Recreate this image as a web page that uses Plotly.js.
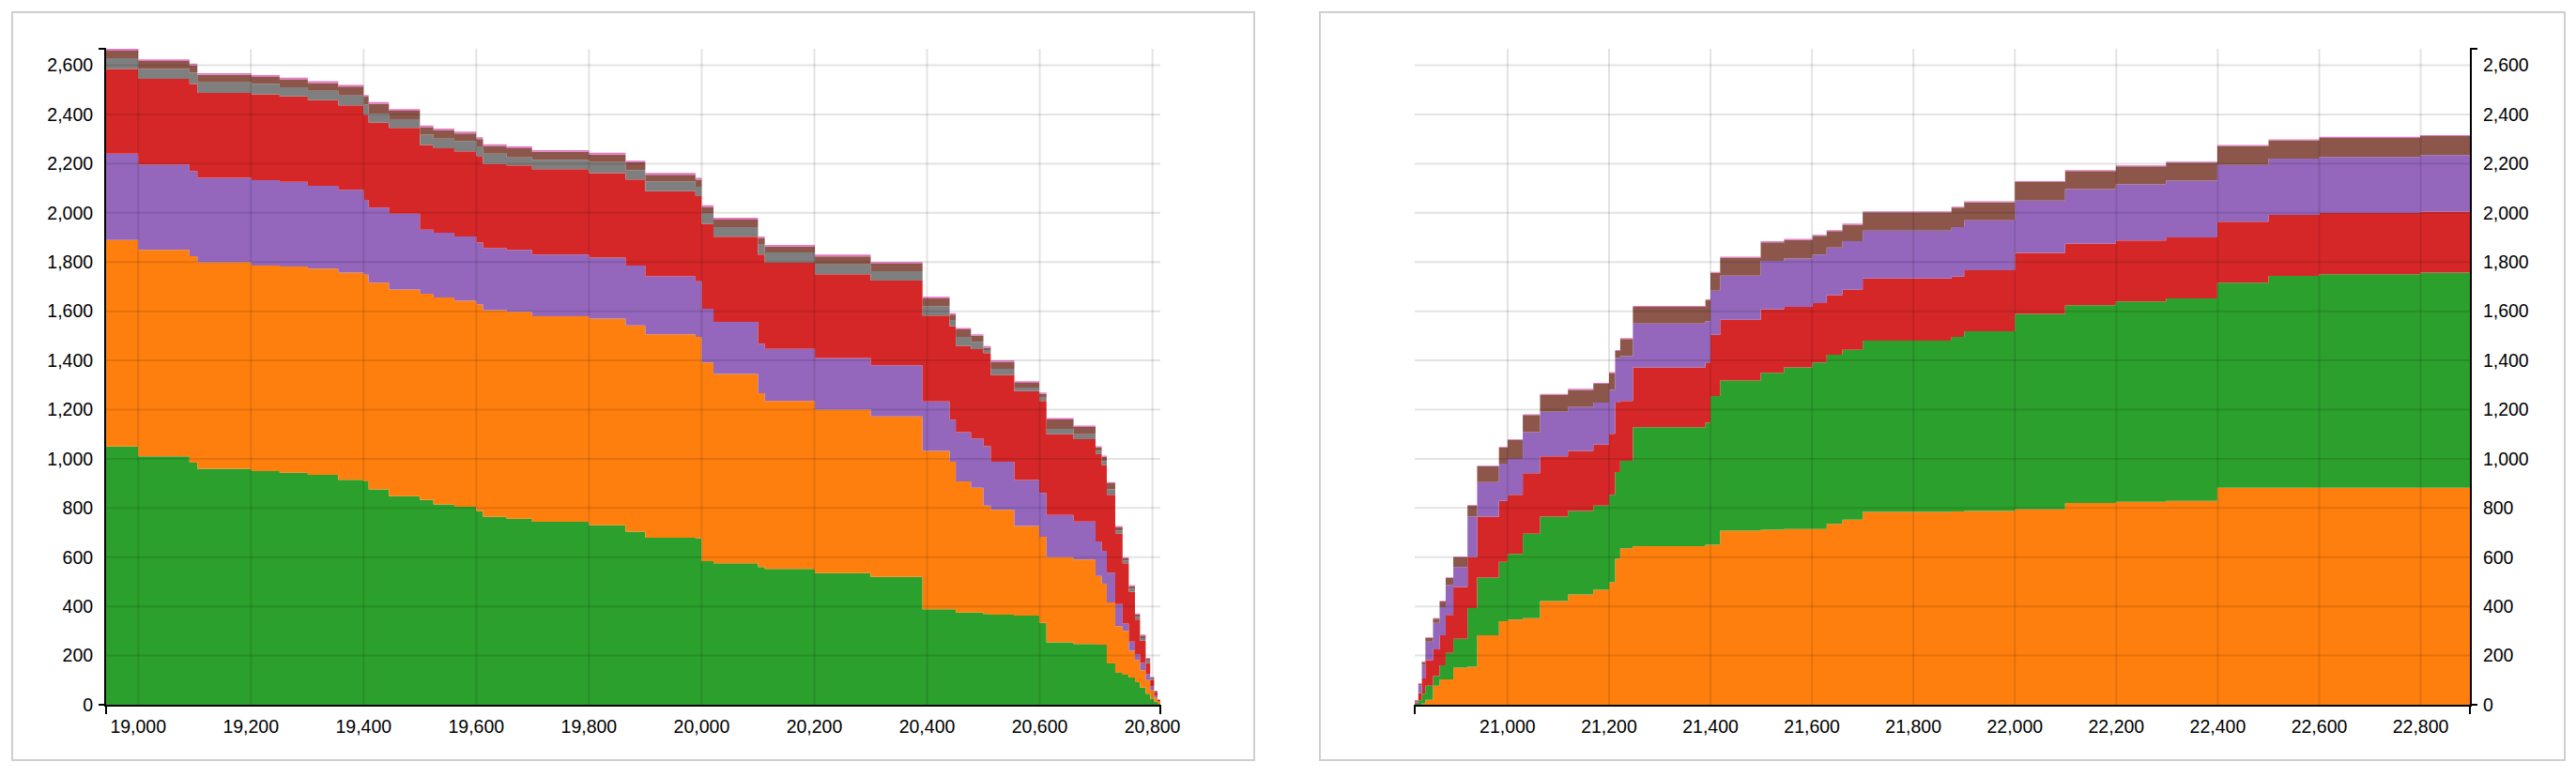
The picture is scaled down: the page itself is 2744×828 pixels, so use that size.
<!DOCTYPE html>
<html>
<head>
<meta charset="utf-8">
<script src="https://cdn.plot.ly/plotly-3.0.1.min.js"></script>
<style>
  body { margin: 0; background: #fff; width: 2744px; height: 828px; overflow: hidden; }
  .panel { position: absolute; top: 12px; height: 799px; box-sizing: border-box; border: 2px solid #cfcfcf; }
  #left { left: 12px; width: 1325px; }
  #right { left: 1405px; width: 1328px; }
</style>
</head>
<body>
<div id="left" class="panel"></div>
<div id="right" class="panel"></div>
<script>
// left panel: values per layer at each step start
const xLeft = [18943, 19000, 19091, 19105, 19201, 19251, 19301, 19355, 19400, 19409,
  19445, 19500, 19524, 19561, 19600, 19612, 19654, 19699, 19800, 19865,
  19900, 19989, 20000, 20021, 20100, 20112, 20201, 20300, 20392, 20440,
  20451, 20478, 20500, 20513, 20555, 20599, 20612, 20660, 20699, 20710,
  20719, 20734, 20747, 20758, 20769, 20778, 20788, 20796, 20803, 20809,
  20814];
const leftGreen = [1050, 1010, 984, 960, 950, 943, 935, 915, 908, 876,
  848, 833, 815, 805, 788, 764, 756, 744, 730, 704,
  679, 676, 584, 575, 560, 552, 535, 520, 388, 388,
  375, 375, 369, 366, 362, 333, 254, 247, 244, 244,
  168, 130, 122, 111, 92, 70, 45, 25, 12, 4,
  0];
const leftOrange = [840, 840, 840, 839, 836, 839, 838, 842, 840, 840,
  840, 838, 841, 838, 839, 840, 842, 836, 840, 838,
  827, 820, 808, 770, 707, 683, 665, 652, 644, 600,
  533, 507, 441, 427, 365, 350, 346, 343, 280, 248,
  248, 190, 178, 108, 89, 70, 55, 35, 18, 7,
  0];
const leftPurple = [351, 346, 346, 343, 347, 344, 337, 337, 305, 305,
  308, 261, 263, 261, 252, 252, 252, 250, 248, 244,
  236, 226, 218, 212, 201, 212, 210, 208, 201, 171,
  200, 201, 241, 195, 187, 178, 172, 155, 140, 134,
  121, 89, 30, 38, 25, 30, 25, 15, 8, 3,
  0];
const leftRed = [344, 349, 354, 346, 349, 347, 348, 343, 346, 346,
  350, 344, 344, 346, 352, 343, 343, 348, 343, 350,
  346, 346, 345, 346, 362, 350, 340, 345, 349, 380,
  351, 363, 379, 353, 361, 374, 328, 335, 356, 349,
  317, 286, 245, 203, 140, 90, 45, 25, 12, 5,
  0];
const leftGray = [44, 40, 46, 43, 42, 38, 38, 40, 41, 36,
  35, 42, 39, 42, 36, 42, 32, 38, 45, 38,
  40, 38, 41, 39, 41, 42, 40, 38, 39, 25,
  37, 30, 12, 25, 15, 14, 22, 20, 12, 16,
  22, 14, 12, 12, 11, 11, 10, 6, 3, 1,
  0];
const leftBrown = [30, 32, 30, 30, 29, 32, 32, 36, 32, 40,
  34, 30, 34, 31, 33, 31, 38, 32, 31, 31,
  27, 29, 28, 31, 26, 24, 33, 30, 31, 22,
  30, 24, 10, 28, 19, 15, 38, 29, 14, 17,
  24, 13, 9, 10, 10, 10, 8, 5, 3, 1,
  0];
const leftPink = [8, 7, 7, 7, 7, 7, 7, 7, 7, 7,
  7, 7, 7, 7, 7, 7, 7, 7, 7, 7,
  7, 7, 7, 7, 7, 7, 7, 7, 7, 6,
  6, 6, 6, 6, 6, 6, 6, 6, 5, 5,
  5, 5, 4, 4, 4, 4, 3, 2, 1, 1,
  0];

// right panel
const xRight = [20817, 20824, 20831, 20838, 20853, 20866, 20878, 20893, 20921, 20940,
  20983, 21000, 21030, 21064, 21119, 21169, 21200, 21212, 21222, 21247,
  21390, 21400, 21419, 21499, 21545, 21601, 21629, 21660, 21700, 21875,
  21900, 22000, 22099, 22199, 22298, 22399, 22500, 22600, 22799, 22897];
const rightOrange = [0, 0, 5, 20, 77, 103, 103, 151, 155, 282,
  340, 346, 352, 422, 448, 467, 498, 594, 636, 645,
  651, 651, 708, 712, 714, 714, 735, 753, 784, 786,
  788, 795, 820, 825, 829, 882, 882, 882, 882, 882];
const rightGreen = [5, 18, 40, 57, 39, 57, 108, 117, 238, 235,
  241, 267, 343, 343, 340, 343, 356, 352, 356, 483,
  496, 604, 610, 638, 658, 678, 688, 690, 696, 710,
  731, 794, 804, 815, 823, 834, 862, 868, 875, 875];
const rightRed = [5, 30, 62, 104, 109, 122, 154, 211, 207, 248,
  248, 241, 246, 245, 244, 248, 248, 283, 243, 244,
  245, 249, 247, 258, 246, 241, 242, 244, 253, 245,
  248, 248, 251, 248, 248, 248, 248, 249, 248, 248];
const rightPurple = [5, 30, 55, 76, 108, 115, 121, 81, 165, 140,
  152, 146, 167, 181, 178, 171, 178, 181, 182, 178,
  168, 180, 180, 197, 196, 197, 194, 198, 195, 201,
  203, 213, 222, 228, 231, 231, 229, 228, 230, 230];
const rightBrown = [3, 8, 12, 15, 17, 23, 29, 40, 45, 64,
  64, 77, 70, 70, 70, 76, 69, 28, 70, 68,
  85, 72, 73, 75, 76, 77, 67, 67, 74, 79,
  73, 75, 73, 73, 73, 77, 74, 78, 77, 77];
const rightPink = [1, 2, 2, 3, 3, 3, 3, 3, 3, 3,
  3, 3, 3, 3, 5, 4, 4, 4, 4, 4,
  4, 4, 4, 5, 4, 4, 4, 4, 4, 4,
  4, 4, 4, 4, 4, 4, 4, 4, 4, 4];

const xTicksLeft = [19000, 19200, 19400, 19600, 19800, 20000, 20200, 20400, 20600, 20800];
const xTicksRight = [21000, 21200, 21400, 21600, 21800, 22000, 22200, 22400, 22600, 22800];
const yTicks = [0, 200, 400, 600, 800, 1000, 1200, 1400, 1600, 1800, 2000, 2200, 2400, 2600];

const colors = {
  green: "#2ca02c", orange: "#ff7f0e", purple: "#9467bd", red: "#d62728",
  gray: "#7f7f7f", brown: "#8c564b", pink: "#e377c2",
};

// both panels share the left panel's starting total as top of the y range
const yTop = [leftGreen, leftOrange, leftPurple, leftRed, leftGray, leftBrown, leftPink]
  .reduce((s, arr) => s + arr[0], 0);

function layer(x, y, color, group) {
  return {
    x, y,
    type: "scatter",
    mode: "lines",
    stackgroup: group,
    line: { shape: "hv", width: 0, color },
    fillcolor: color,
    hoverinfo: "skip",
  };
}

// gridlines go above the fills, so draw them as shapes
function gridShapes(xTicks) {
  const grid = { color: "rgba(0,0,0,0.11)", width: 2 };
  const vertical = xTicks.map((v) => ({
    type: "line", layer: "above", xref: "x", yref: "y domain",
    x0: v, x1: v, y0: 0, y1: 1, line: grid,
  }));
  const horizontal = yTicks.filter((v) => v > 0).map((v) => ({
    type: "line", layer: "above", xref: "x domain", yref: "y",
    x0: 0, x1: 1, y0: v, y1: v, line: grid,
  }));
  return vertical.concat(horizontal);
}

// little outer ticks at the ends of each axis line
function endTicks(ySide) {
  const edge = { color: "black", width: 2 };
  const yx = ySide === "left" ? 0 : 1;
  const dir = ySide === "left" ? -1 : 1;
  const shapes = [];
  [0, 1].forEach((yy) => {
    shapes.push({
      type: "line", layer: "above", xref: "x domain", yref: "y domain",
      xsizemode: "pixel", xanchor: yx, x0: 0, x1: 8 * dir, y0: yy, y1: yy, line: edge,
    });
  });
  [0, 1].forEach((xx) => {
    shapes.push({
      type: "line", layer: "above", xref: "x domain", yref: "y domain",
      ysizemode: "pixel", yanchor: 0, x0: xx, x1: xx, y0: 0, y1: -10, line: edge,
    });
  });
  return shapes;
}

function axisStyle() {
  return {
    showgrid: false,
    zeroline: false,
    showline: true,
    linecolor: "black",
    linewidth: 2,
    ticks: "",
    tickformat: ",d",
    tickfont: { family: "Liberation Sans, Arial, sans-serif", size: 19.5, color: "black" },
    fixedrange: true,
  };
}

function makeLayout(w, margin, xRange, xTicks, ySide) {
  return {
    width: w,
    height: 795,
    margin,
    showlegend: false,
    paper_bgcolor: "white",
    plot_bgcolor: "white",
    xaxis: Object.assign(axisStyle(), { range: xRange, tickvals: xTicks, ticklabelstandoff: 5 }),
    yaxis: Object.assign(axisStyle(), { range: [0, yTop], tickvals: yTicks, side: ySide, ticklabelstandoff: 8 }),
    shapes: gridShapes(xTicks).concat(endTicks(ySide)),
  };
}

const config = { staticPlot: true, displayModeBar: false };

Plotly.newPlot(
  "left",
  [
    layer(xLeft, leftGreen, colors.green, "L"),
    layer(xLeft, leftOrange, colors.orange, "L"),
    layer(xLeft, leftPurple, colors.purple, "L"),
    layer(xLeft, leftRed, colors.red, "L"),
    layer(xLeft, leftGray, colors.gray, "L"),
    layer(xLeft, leftBrown, colors.brown, "L"),
    layer(xLeft, leftPink, colors.pink, "L"),
  ],
  makeLayout(1321, { l: 99, r: 99, t: 38, b: 58 }, [xLeft[0], xLeft[xLeft.length - 1]], xTicksLeft, "left"),
  config
);

Plotly.newPlot(
  "right",
  [
    layer(xRight, rightOrange, colors.orange, "R"),
    layer(xRight, rightGreen, colors.green, "R"),
    layer(xRight, rightRed, colors.red, "R"),
    layer(xRight, rightPurple, colors.purple, "R"),
    layer(xRight, rightBrown, colors.brown, "R"),
    layer(xRight, rightPink, colors.pink, "R"),
  ],
  makeLayout(1324, { l: 100, r: 100, t: 38, b: 58 }, [xRight[0], xRight[xRight.length - 1]], xTicksRight, "right"),
  config
);
</script>
</body>
</html>
